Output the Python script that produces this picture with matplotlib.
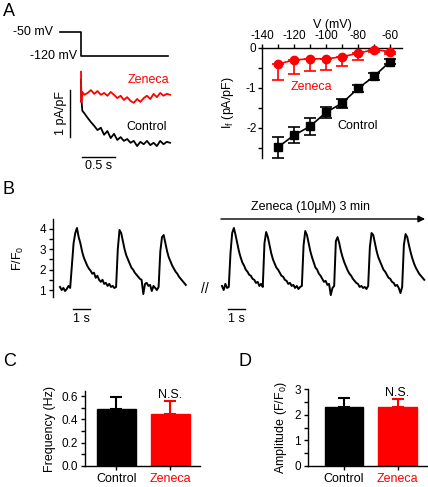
import numpy as np
import matplotlib.pyplot as plt

plt.rcParams['font.family'] = ['Liberation Sans', 'DejaVu Sans']
plt.rcParams['mathtext.fontset'] = 'custom'
plt.rcParams['mathtext.rm'] = 'Liberation Sans'
plt.rcParams['font.size'] = 8.5
plt.rcParams['axes.linewidth'] = 1.0
plt.rcParams['axes.unicode_minus'] = False

RED = '#ff0000'

# ---- panel A, protocol and current traces
prot_t = [-0.32, 0.0, 0.0, 1.32]
prot_v = [-50, -50, -120, -120]

cur_t = [0.0, 0.005, 0.02, 0.05, 0.10, 0.15, 0.20, 0.25, 0.30, 0.35, 0.40, 0.45, 0.50,
         0.55, 0.60, 0.65, 0.70, 0.75, 0.80, 0.85, 0.90, 0.95, 1.00, 1.05, 1.10,
         1.15, 1.20, 1.25, 1.30, 1.35]
zen_i = [0.45, -0.2, 0.02, -0.04, 0.0, 0.06, -0.02, 0.04, -0.04, 0.0, -0.06, 0.02,
         -0.04, -0.11, -0.06, -0.15, -0.09, -0.17, -0.21, -0.13, -0.19, -0.11, -0.06,
         -0.13, -0.02, -0.09, 0.0, -0.06, -0.02, -0.04]
ctl_i = [0.28, -0.1, -0.38, -0.43, -0.53, -0.62, -0.70, -0.79, -0.74, -0.89, -0.81,
         -0.96, -0.87, -1.0, -0.94, -1.02, -0.98, -1.06, -1.02, -1.13, -1.04, -1.09,
         -1.02, -1.11, -1.06, -1.13, -1.02, -1.09, -1.04, -1.06]

# ---- panel A, I-V relation
volt = [-130, -120, -110, -100, -90, -80, -70, -60]
iv_ctl = [-2.48, -2.18, -1.96, -1.61, -1.38, -1.01, -0.71, -0.34]
iv_ctl_sem = [0.26, 0.2, 0.21, 0.14, 0.11, 0.08, 0.08, 0.06]
iv_zen = [-0.40, -0.30, -0.27, -0.27, -0.22, -0.13, -0.04, -0.09]
iv_zen_sem = [0.39, 0.35, 0.31, 0.28, 0.22, 0.17, 0.05, 0.06]

# ---- panel B, Ca transients (F/F0), 0.1 s sampling
ca_ctl = [1.15, 1.0, 1.1, 0.95, 1.05, 1.2, 1.1, 2.2, 3.3, 3.8, 4.05, 3.6, 3.3, 2.9,
          2.6, 2.4, 2.2, 2.05, 1.95, 1.8, 1.85, 1.6, 1.7, 1.5, 1.4, 1.5, 1.3, 1.35,
          1.2, 1.3, 1.15, 1.2, 1.1, 1.15, 3.0, 3.95, 3.8, 3.4, 3.0, 2.7, 2.5, 2.3,
          2.1, 2.0, 1.85, 1.75, 1.65, 1.55, 1.5, 0.8, 1.3, 1.35, 1.2, 1.25, 0.95,
          1.2, 1.1, 1.0, 1.15, 2.9, 3.6, 3.7, 3.3, 2.9, 2.6, 2.4, 2.2, 2.05, 1.9,
          1.8, 1.65, 1.55, 1.45, 1.35, 1.25]
ca_zen = [1.2, 1.0, 1.3, 1.1, 1.15, 2.8, 3.8, 4.05, 3.7, 3.3, 2.9, 2.6, 2.35, 2.2,
          2.0, 1.9, 1.75, 1.7, 1.55, 1.5, 1.35, 1.4, 1.2, 1.3, 1.15, 3.3, 3.85, 3.6,
          3.2, 2.8, 2.5, 2.3, 2.1, 2.0, 1.85, 1.7, 1.65, 1.5, 1.45, 1.3, 1.35, 1.2,
          1.25, 1.1, 1.2, 1.05, 1.15, 1.2, 3.2, 3.9, 3.7, 3.3, 2.9, 2.6, 2.35, 2.1,
          2.0, 1.8, 1.7, 1.55, 1.4, 1.45, 1.25, 1.3, 0.75, 1.1, 1.2, 3.4, 3.6, 3.3,
          2.9, 2.6, 2.35, 2.15, 1.95, 1.8, 1.7, 1.55, 1.45, 1.35, 1.3, 1.15, 1.2,
          1.1, 1.15, 1.05, 1.2, 3.1, 3.8, 3.7, 3.3, 2.9, 2.6, 2.4, 2.2, 2.0, 1.9,
          1.75, 1.6, 1.55, 1.4, 1.35, 1.2, 1.25, 1.1, 0.85, 1.15, 3.2, 3.75, 3.6,
          3.2, 2.85, 2.55, 2.3, 2.1, 1.95, 1.8, 1.7, 1.6, 1.5]
dt = 0.1

# ---- panels C and D
groups = ['Control', 'Zeneca']
freq = [0.49, 0.45]
freq_sem = [0.10, 0.11]
ampl = [2.30, 2.28]
ampl_sem = [0.35, 0.33]

W, H = 428, 487
fig = plt.figure(figsize=(W / 100, H / 100), dpi=100)


def px_axes(left, top, width, height):
    return fig.add_axes([left / W, 1 - (top + height) / H, width / W, height / H])


# panel letters
for lab, x, y in [('A', 3, 3), ('B', 3, 181), ('C', 3, 353), ('D', 238, 353)]:
    fig.text(x / W, 1 - y / H, lab, fontsize=13, va='top', ha='left')

# protocol
axp = px_axes(55, 20, 125, 45)
axp.plot(prot_t, prot_v, color='k', lw=1.2)
axp.set_xlim(-0.394, 1.5)
axp.set_ylim(-146.25, -15)
axp.axis('off')
axp.text(-0.42, -50, '-50 mV', ha='right', va='center', fontsize=9)
axp.text(-0.06, -120, '-120 mV', ha='right', va='center', fontsize=9)

# currents
axc = px_axes(55, 60, 125, 115)
axc.plot(cur_t, ctl_i, color='k', lw=1.3)
axc.plot(cur_t, zen_i, color=RED, lw=1.3)
axc.set_xlim(-0.394, 1.5)
axc.set_ylim(-1.745, 0.70)
axc.axis('off')
axc.plot([-0.167, -0.167], [0.064, -0.936], color='k', lw=1)
axc.plot([0.015, 0.515], [-1.36, -1.36], color='k', lw=1)
axc.text(0.265, -1.43, '0.5 s', ha='center', va='top', fontsize=9)
axc.text(-0.30, -0.43, '1 pA/pF', rotation=90, ha='center', va='center', fontsize=9)
axc.text(1.02, 0.28, 'Zeneca', color=RED, ha='center', va='center', fontsize=9)
axc.text(1.0, -0.72, 'Control', color='k', ha='center', va='center', fontsize=9)

# I-V
axv = px_axes(262, 48, 140, 110)
axv.errorbar(volt, iv_ctl, yerr=iv_ctl_sem, color='k', marker='s', ms=5.5, lw=1.2,
             capsize=4, capthick=1.2, clip_on=False, zorder=3)
axv.errorbar(volt, iv_zen, yerr=[iv_zen_sem, [0] * len(iv_zen_sem)], color=RED,
             marker='o', ms=6, lw=1.2, capsize=4, capthick=1.2, clip_on=False, zorder=3)
axv.set_xlim(-140, -52.5)
axv.set_ylim(-2.75, 0)
axv.spines['right'].set_visible(False)
axv.spines['bottom'].set_visible(False)
axv.xaxis.tick_top()
axv.xaxis.set_label_position('top')
axv.set_xticks([-140, -120, -100, -80, -60])
axv.set_xticks([-130, -110, -90, -70], minor=True)
axv.set_yticks([0, -1, -2])
axv.set_yticks([-0.5, -1.5, -2.5], minor=True)
axv.tick_params(which='both', length=3, width=1, pad=1)
axv.set_xlabel('V (mV)', fontsize=9, labelpad=2)
axv.set_ylabel(r'I$_\mathregular{f}$ (pA/pF)', fontsize=9, labelpad=7)
axv.text(-108.8, -0.97, 'Zeneca', color=RED, ha='center', va='center', fontsize=9)
axv.text(-80, -1.95, 'Control', color='k', ha='center', va='center', fontsize=9)

# panel B
ax1 = px_axes(53, 219, 142, 78)
ax1.plot(np.arange(len(ca_ctl)) * dt, ca_ctl, color='k', lw=1.4)
ax1.set_xlim(-0.41, 7.94)
ax1.set_ylim(0.656, 4.49)
for s in ['top', 'right', 'bottom']:
    ax1.spines[s].set_visible(False)
ax1.set_xticks([])
ax1.set_yticks([1, 2, 3, 4])
ax1.set_yticks([1.5, 2.5, 3.5], minor=True)
ax1.tick_params(which='both', length=3, width=1, pad=2)
ax1.set_ylabel(r'F/F$_\mathregular{0}$', fontsize=9, labelpad=10)
ax1.plot([0.76, 1.76], [0.065, 0.065], color='k', lw=1, clip_on=False)
ax1.text(1.26, -0.15, '1 s', ha='center', va='top', fontsize=9)

ax2 = px_axes(215, 219, 213, 78)
ax2.plot(np.arange(len(ca_zen)) * dt, ca_zen, color='k', lw=1.4)
ax2.set_xlim(-0.41, 12.12)
ax2.set_ylim(0.656, 4.49)
ax2.axis('off')
ax2.plot([0.35, 1.35], [0.065, 0.065], color='k', lw=1, clip_on=False)
ax2.text(0.85, -0.15, '1 s', ha='center', va='top', fontsize=9)
ax2.annotate('', xy=(11.95, 4.49), xytext=(-0.06, 4.49), annotation_clip=False,
             arrowprops=dict(arrowstyle='-|>', color='k', lw=1, mutation_scale=10,
                             shrinkA=0, shrinkB=0))
ax2.text(5.18, 5.08, 'Zeneca (10\u03bcM) 3 min', ha='center', va='center', fontsize=9)
fig.text(205 / W, 1 - 289 / H, '//', ha='center', va='center', fontsize=10)


def bar_panel(ax, vals, sems, ylim, yt, ytm, ylabel, xlim):
    x = np.arange(len(vals))
    cols = ['k', RED]
    for xi, v, e, c in zip(x, vals, sems, cols):
        ax.bar(xi, v, width=0.72, color=c, edgecolor=c, lw=1, zorder=2)
        ax.errorbar(xi, v, yerr=[[0], [e]], color=c, lw=1.5, capsize=4.5,
                    capthick=1.5, zorder=1, clip_on=False)
    ax.set_xlim(*xlim)
    ax.set_ylim(*ylim)
    ax.spines['top'].set_visible(False)
    ax.spines['right'].set_visible(False)
    ax.set_xticks(x)
    ax.set_xticklabels(groups, fontsize=9)
    for lbl, c in zip(ax.get_xticklabels(), cols):
        lbl.set_color(c)
    ax.set_yticks(yt)
    ax.set_yticks(ytm, minor=True)
    ax.tick_params(which='both', length=3, width=1, pad=2)
    ax.set_ylabel(ylabel, fontsize=9)
    ax.text(1, vals[1] + sems[1], 'N.S.', ha='center', va='bottom', fontsize=9)


axC = px_axes(85, 391, 115, 75)
bar_panel(axC, freq, freq_sem, (0, 0.643), [0.0, 0.2, 0.4, 0.6], [0.1, 0.3, 0.5],
          'Frequency (Hz)', (-0.58, 1.55))
axC.set_yticklabels(['0.0', '0.2', '0.4', '0.6'])

axD = px_axes(308, 389, 119, 77)
bar_panel(axD, ampl, ampl_sem, (0, 3.0), [0, 1, 2, 3], [0.5, 1.5, 2.5],
          r'Amplitude (F/F$_\mathregular{0}$)', (-0.67, 1.55))

fig.savefig('out.png', dpi=100)
